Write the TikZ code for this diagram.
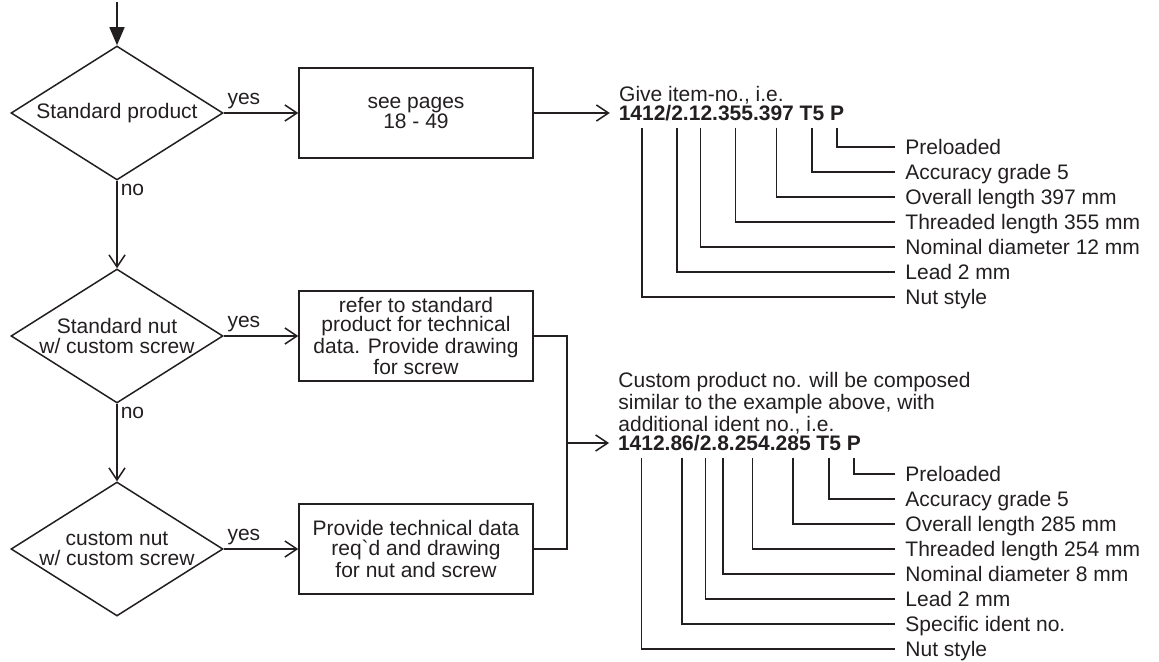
\documentclass[tikz,border=0pt]{standalone}
\usepackage{fontspec}
\setmainfont{Liberation Sans}
\usepackage{tikz}
\usetikzlibrary{arrows.meta, positioning, shapes.geometric}
\definecolor{ink}{RGB}{35,31,32}

\begin{document}
\begin{tikzpicture}[
    x=0.5pt, y=-0.5pt,
    every node/.style={font=\fontsize{10.5}{9.75}\selectfont, text=ink},
    decision/.style={diamond, draw=ink, line width=0.75pt,
                     minimum width=106pt, minimum height=67pt, inner sep=0pt},
    dtext/.style={align=center, inner sep=0pt},
    process/.style={rectangle, draw=ink, line width=0.75pt,
                    minimum width=117pt, minimum height=45pt, align=center, inner sep=2pt},
    arr/.style={-{Straight Barb[length=6pt, width=8pt]}, line width=0.75pt, ink},
    wire/.style={line width=0.75pt, ink},
    numpart/.style={font=\fontsize{10.5}{9.75}\selectfont\bfseries, inner sep=0pt, outer sep=0pt,
                    anchor=base west, text height=7.6pt, text depth=0pt},
    lbl/.style={anchor=west, inner xsep=5pt, inner ysep=0pt, text height=7.6pt, text depth=0pt},
    answer/.style={inner sep=1.5pt},
]
    \useasboundingbox (0,0) rectangle (1159,662);

    % decisions
    \node[decision, label={[dtext]center:Standard product}] (d1) at (117,113) {};
    \node[decision, label={[dtext]center:{Standard nut\\w/ custom screw}}] (d2) at (117,336) {};
    \node[decision, label={[dtext]center:{custom nut\\w/ custom screw}}] (d3) at (117,549) {};

    % actions
    \node[process] (b1) at (416,113) {see pages\\18 - 49};
    \node[process] (b2) at (416,336) {refer to standard\\product for technical\\data. Provide drawing\\for screw};
    \node[process] (b3) at (416,549) {Provide technical data\\req\textasciigrave d and drawing\\for nut and screw};

    \coordinate (start) at (117,2);
    \draw[wire, -{Triangle[length=9pt, width=7.5pt]}] (start) -- (d1.north);
    \draw[arr] (d1.east) -- (b1.west) node[pos=0, anchor=south west, answer] {yes};
    \draw[arr] (d2.east) -- (b2.west) node[pos=0, anchor=south west, answer] {yes};
    \draw[arr] (d3.east) -- (b3.west) node[pos=0, anchor=south west, answer] {yes};
    \draw[arr] (d1.south) -- (d2.north) node[pos=0, anchor=north west, answer] {no};
    \draw[arr] (d2.south) -- (d3.north) node[pos=0, anchor=north west, answer] {no};

    % standard item number
    \node[numpart, right=42.5pt of b1] (u1412) {1412};
    \node[numpart] (us1) at (u1412.base east) {/};
    \node[numpart] (u2) at (us1.base east) {2};
    \node[numpart] (ud1) at (u2.base east) {.};
    \node[numpart] (u12) at (ud1.base east) {12};
    \node[numpart] (ud2) at (u12.base east) {.};
    \node[numpart] (u355) at (ud2.base east) {355};
    \node[numpart] (ud3) at (u355.base east) {.};
    \node[numpart] (u397) at (ud3.base east) {397};
    \node[numpart] (uT5) at ([xshift=2.9pt]u397.base east) {T5};
    \node[numpart] (uP) at ([xshift=2.9pt]uT5.base east) {P};
    \node[anchor=base west, inner sep=0pt] (hdr1) at ([yshift=9.75pt]u1412.base west) {Give item-no., i.e.};
    \draw[arr, shorten >=4.5pt] (b1.east) -- (u1412.west);

    \node[lbl] (la1) at (895,147) {Preloaded};
    \node[lbl] (la2) at (895,172) {Accuracy grade 5};
    \node[lbl] (la3) at (895,197) {Overall length 397 mm};
    \node[lbl] (la4) at (895,222) {Threaded length 355 mm};
    \node[lbl] (la5) at (895,247) {Nominal diameter 12 mm};
    \node[lbl] (la6) at (895,272) {Lead 2 mm};
    \node[lbl] (la7) at (895,297) {Nut style};

    \draw[wire] ([yshift=-3.5pt]uP.south) |- (la1.west);
    \draw[wire] ([yshift=-3.5pt]uT5.south) |- (la2.west);
    \draw[wire] ([yshift=-3.5pt]u397.south) |- (la3.west);
    \draw[wire] ([yshift=-3.5pt]u355.south) |- (la4.west);
    \draw[wire] ([yshift=-3.5pt]u12.south) |- (la5.west);
    \draw[wire] ([yshift=-3.5pt]u2.south) |- (la6.west);
    \draw[wire] ([yshift=-3.5pt]u1412.south) |- (la7.west);

    % custom item number
    \coordinate (jn) at (567,443);
    \draw[wire] (b2.east) -| (jn);
    \draw[wire] (b3.east) -| (jn);
    \node[numpart, right=25.5pt of jn] (v1412) {1412};
    \node[numpart] (vd1) at (v1412.base east) {.};
    \node[numpart] (v86) at (vd1.base east) {86};
    \node[numpart] (vs1) at (v86.base east) {/};
    \node[numpart] (v2) at (vs1.base east) {2};
    \node[numpart] (vd2) at (v2.base east) {.};
    \node[numpart] (v8) at (vd2.base east) {8};
    \node[numpart] (vd3) at (v8.base east) {.};
    \node[numpart] (v254) at (vd3.base east) {254};
    \node[numpart] (vd4) at (v254.base east) {.};
    \node[numpart] (v285) at (vd4.base east) {285};
    \node[numpart] (vT5) at ([xshift=2.9pt]v285.base east) {T5};
    \node[numpart] (vP) at ([xshift=2.9pt]vT5.base east) {P};
    \node[anchor=base west, inner sep=0pt, align=left] (hdr2) at ([yshift=9.75pt]v1412.base west)
        {Custom product no. will be composed\\similar to the example above, with\\additional ident no., i.e.};
    \draw[arr, shorten >=4.5pt] (jn) -- (v1412.west);

    \node[lbl] (lb1) at (895,474) {Preloaded};
    \node[lbl] (lb2) at (895,499) {Accuracy grade 5};
    \node[lbl] (lb3) at (895,524) {Overall length 285 mm};
    \node[lbl] (lb4) at (895,549) {Threaded length 254 mm};
    \node[lbl] (lb5) at (895,574) {Nominal diameter 8 mm};
    \node[lbl] (lb6) at (895,599) {Lead 2 mm};
    \node[lbl] (lb7) at (895,624) {Specific ident no.};
    \node[lbl] (lb8) at (895,649) {Nut style};

    \draw[wire] ([yshift=-3.5pt]vP.south) |- (lb1.west);
    \draw[wire] ([yshift=-3.5pt]vT5.south) |- (lb2.west);
    \draw[wire] ([yshift=-3.5pt]v285.south) |- (lb3.west);
    \draw[wire] ([yshift=-3.5pt]v254.south) |- (lb4.west);
    \draw[wire] ([yshift=-3.5pt]v8.south) |- (lb5.west);
    \draw[wire] ([yshift=-3.5pt]v2.south) |- (lb6.west);
    \draw[wire] ([yshift=-3.5pt]v86.south) |- (lb7.west);
    \draw[wire] ([yshift=-3.5pt]v1412.south) |- (lb8.west);
\end{tikzpicture}
\end{document}
